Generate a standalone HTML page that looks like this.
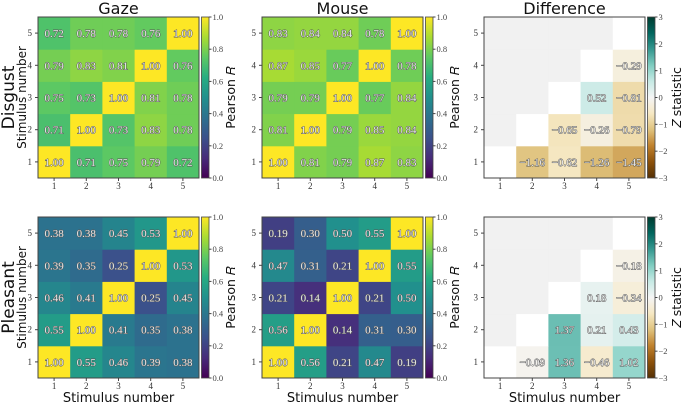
<!DOCTYPE html>
<html><head><meta charset="utf-8"><style>
body{margin:0;background:#fff}
svg{display:block}
text{font-family:"Liberation Serif",serif}
.sans{font-family:"DejaVu Sans","Liberation Sans",sans-serif}
</style></head><body>
<svg id="fig" width="684" height="404" xmlns="http://www.w3.org/2000/svg"></svg>
<script>
const stimuli = [1,2,3,4,5];
const disgustGaze = [
 [1.00,0.71,0.75,0.79,0.72],
 [0.71,1.00,0.73,0.83,0.78],
 [0.75,0.73,1.00,0.81,0.78],
 [0.79,0.83,0.81,1.00,0.76],
 [0.72,0.78,0.78,0.76,1.00]];
const disgustMouse = [
 [1.00,0.81,0.79,0.87,0.83],
 [0.81,1.00,0.79,0.85,0.84],
 [0.79,0.79,1.00,0.77,0.84],
 [0.87,0.85,0.77,1.00,0.78],
 [0.83,0.84,0.84,0.78,1.00]];
const pleasantGaze = [
 [1.00,0.55,0.46,0.39,0.38],
 [0.55,1.00,0.41,0.35,0.38],
 [0.46,0.41,1.00,0.25,0.45],
 [0.39,0.35,0.25,1.00,0.53],
 [0.38,0.38,0.45,0.53,1.00]];
const pleasantMouse = [
 [1.00,0.56,0.21,0.47,0.19],
 [0.56,1.00,0.14,0.31,0.30],
 [0.21,0.14,1.00,0.21,0.50],
 [0.47,0.31,0.21,1.00,0.55],
 [0.19,0.30,0.50,0.55,1.00]];
const disgustDiff = [
 [null,-1.16,-0.62,-1.26,-1.45],
 [null,null,-0.65,-0.26,-0.79],
 [null,null,null,0.52,-0.81],
 [null,null,null,null,-0.29],
 [null,null,null,null,null]];
const pleasantDiff = [
 [null,-0.09,1.36,-0.46,1.02],
 [null,null,1.37,0.21,0.43],
 [null,null,null,0.18,-0.34],
 [null,null,null,null,-0.18],
 [null,null,null,null,null]];
const rTicks = ["0.0","0.2","0.4","0.6","0.8","1.0"];
const zTicks = ["−3","−2","−1","0","1","2","3"];

const NS="http://www.w3.org/2000/svg";
const svg=document.getElementById('fig');
function el(tag,attrs,parent){const e=document.createElementNS(NS,tag);for(const k in attrs)e.setAttribute(k,attrs[k]);(parent||svg).appendChild(e);return e;}
function lerpStops(stops,t){t=Math.max(0,Math.min(1,t));for(let i=1;i<stops.length;i++){if(t<=stops[i][0]){const a=stops[i-1],b=stops[i];const f=(t-a[0])/(b[0]-a[0]);const c=[0,1,2].map(j=>Math.round(a[1][j]+(b[1][j]-a[1][j])*f));return `rgb(${c})`;}}return `rgb(${stops[stops.length-1][1]})`;}
const viridis=[[0,[68,1,84]],[0.125,[71,44,122]],[0.25,[59,81,139]],[0.375,[44,113,142]],[0.5,[33,144,141]],[0.625,[39,173,129]],[0.75,[92,200,99]],[0.875,[170,220,50]],[1,[253,231,37]]];
const brbg=[[0,[84,48,5]],[0.1,[140,81,10]],[0.2,[191,129,45]],[0.3,[223,194,125]],[0.4,[246,232,195]],[0.5,[245,245,245]],[0.6,[199,234,229]],[0.7,[128,205,193]],[0.8,[53,151,143]],[0.9,[1,102,94]],[1,[0,60,48]]];

const X0=[38,262,484], Y0=[17,217], S=32.2;
function xs(p,i){return X0[p]+i*S;}
function ys(r,j){return Y0[r]+(4-j)*S;}

function cellText(g,x,y,v){
 const t=el('text',{x:x+S/2,y:y+S/2+4,'text-anchor':'middle','font-size':'11',fill:'#e8e8e8',stroke:'#555','stroke-width':'0.9','paint-order':'stroke'},g);
 t.textContent=v.toFixed(2).replace('-','−');
 return t;
}
function axes(p,r,xlabel){
 const g=el('g',{});
 
 
 el('rect',{x:X0[p],y:Y0[r],width:5*S,height:5*S,fill:'none',stroke:'#444','stroke-width':'1'},g);
 stimuli.forEach((s,i)=>{
  const tx=xs(p,i)+S/2;
  el('line',{x1:tx,y1:Y0[r]+5*S,x2:tx,y2:Y0[r]+5*S+3,stroke:'#444'},g);
  const t=el('text',{x:tx,y:Y0[r]+5*S+11,'text-anchor':'middle','font-size':'9',fill:'#333'},g);t.textContent=s;
  const ty=ys(r,i)+S/2;
  el('line',{x1:X0[p]-3,y1:ty,x2:X0[p],y2:ty,stroke:'#444'},g);
  const t2=el('text',{x:X0[p]-6,y:ty+3,'text-anchor':'end','font-size':'9',fill:'#333'},g);t2.textContent=s;
 });
 if(xlabel){const t=el('text',{x:X0[p]+2.5*S,y:402,'text-anchor':'middle','font-size':'13',fill:'#111',class:'sans'});t.textContent='Stimulus number';
  }
}
function corrPanel(p,r,M){
 const g=el('g',{});
 
 
 M.forEach((row,j)=>row.forEach((v,i)=>{
  const c=el('rect',{x:xs(p,i),y:ys(r,j),width:S+0.5,height:S+0.5,fill:lerpStops(viridis,v)},g);
  
  
  cellText(g,xs(p,i),ys(r,j),v);
 }));
 axes(p,r,r===1);
 colorbar(p,r,viridis,rTicks,'Pearson 𝑅');
}
function diffPanel(r,M){
 const p=2;
 const g=el('g',{});
 
 
 for(let j=0;j<5;j++)for(let i=0;i<5;i++){
  const v=M[j][i];let f;
  if(i===j)f='#fff';else if(v===null)f='#f1f1f1';else f=lerpStops(brbg,(v+3)/6);
  const c=el('rect',{x:xs(p,i),y:ys(r,j),width:S+0.5,height:S+0.5,fill:f},g);
  
  
  if(v!==null&&i!==j)cellText(g,xs(p,i),ys(r,j),v);
 }
 axes(p,r,r===1);
 colorbar(p,r,brbg,zTicks,'𝑍 statistic');
}
let gid=0;
function colorbar(p,r,cmap,ticks,label){
 const x=X0[p]+5*S+2.5,y=Y0[r],h=5*S,w=7.5;
 const id='cg'+(gid++);
 const d=el('defs',{});const lg=el('linearGradient',{id:id,x1:0,y1:1,x2:0,y2:0},d);
 cmap.forEach(s=>el('stop',{offset:s[0],'stop-color':`rgb(${s[1]})`},lg));
 const g=el('g',{});
 
 
 el('rect',{x:x,y:y,width:w,height:h,fill:`url(#${id})`,stroke:'#444','stroke-width':'0.8'},g);
 ticks.forEach((tk,k)=>{
  const ty=y+h-k*h/(ticks.length-1);
  el('line',{x1:x+w,y1:ty,x2:x+w+2.5,y2:ty,stroke:'#444'},g);
  const t=el('text',{x:x+w+3.5,y:ty+3,'font-size':'8.5',fill:'#444'},g);t.textContent=tk;
 });
 const lx=x+w+26,ly=y+h/2;
 const t=el('text',{x:lx,y:ly,'text-anchor':'middle','font-size':'12.5',fill:'#111',class:'sans',transform:`rotate(-90 ${lx} ${ly})`},g);t.textContent=label;
}
corrPanel(0,0,disgustGaze);corrPanel(1,0,disgustMouse);diffPanel(0,disgustDiff);
corrPanel(0,1,pleasantGaze);corrPanel(1,1,pleasantMouse);diffPanel(1,pleasantDiff);
["Gaze","Mouse","Difference"].forEach((s,p)=>{const t=el('text',{x:X0[p]+2.5*S,y:14,'text-anchor':'middle','font-size':'16',fill:'#111',class:'sans'});t.textContent=s;
 });
["Disgust","Pleasant"].forEach((s,r)=>{const cy=Y0[r]+2.5*S;
 const t=el('text',{x:14,y:cy,'text-anchor':'middle','font-size':'17',fill:'#111',class:'sans',transform:`rotate(-90 14 ${cy})`});t.textContent=s;
 
 const t2=el('text',{x:26,y:cy,'text-anchor':'middle','font-size':'12',fill:'#111',class:'sans',transform:`rotate(-90 26 ${cy})`});t2.textContent='Stimulus number';
 });
</script>
</body></html>
